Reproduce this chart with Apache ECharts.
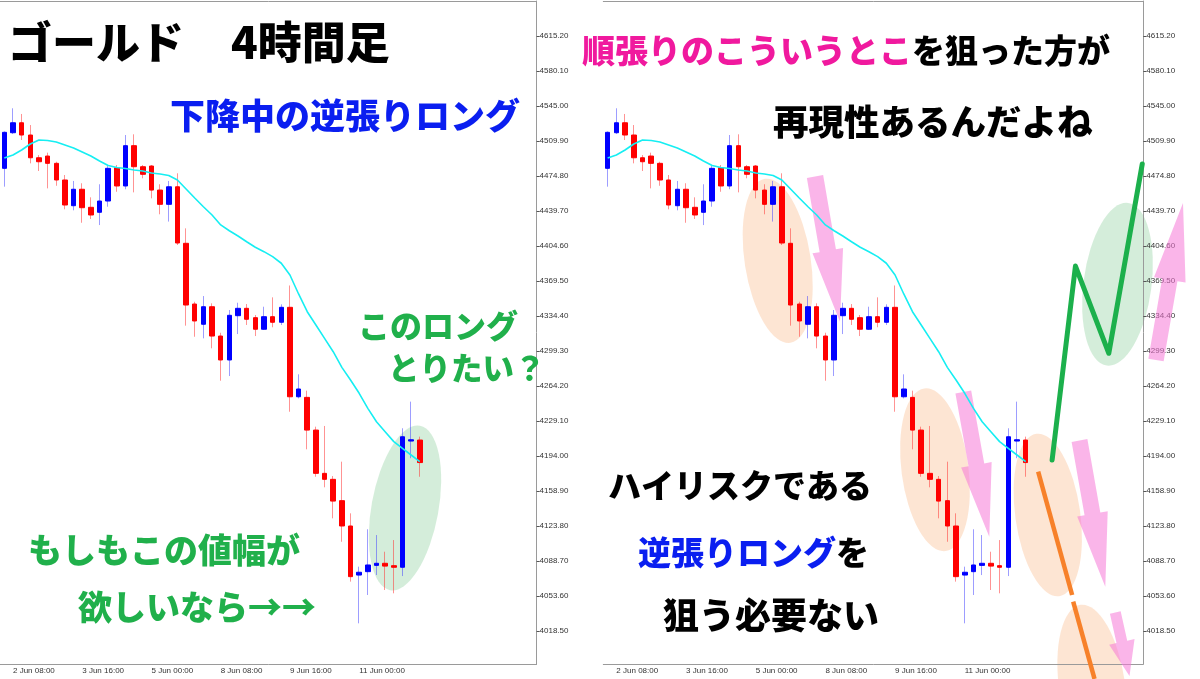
<!DOCTYPE html>
<html><head><meta charset="utf-8">
<script src="https://cdn.jsdelivr.net/npm/echarts@6/dist/echarts.min.js"></script>
<style>html,body{margin:0;padding:0;background:#fff}#c{width:1200px;height:679px}</style>
</head><body><div id="c"></div>
<script>
// ---- data ----
const tickLabels = ['2 Jun 08:00','3 Jun 16:00','5 Jun 00:00','8 Jun 08:00','9 Jun 16:00','11 Jun 00:00'];
const tickIndex = [1,9,17,25,33,41];
const slotCount = 62;
const open  = [4482.5,4518.2,4528.2,4515.9,4493.1,4494.8,4487.5,4470.8,4445.0,4461.5,4443.4,4438.4,4449.7,4483.1,4464.8,4505.2,4484.1,4484.8,4460.7,4446.4,4464.0,4407.3,4346.4,4326.1,4343.7,4314.3,4290.3,4334.7,4342.1,4332.7,4321.1,4333.7,4328.1,4343.1,4253.4,4252.8,4220.0,4176.6,4170.6,4149.2,4123.8,4074.6,4078.0,4084.3,4086.4,4084.0,4082.4,4209.0,4210.0];
const close = [4518.6,4528.2,4515.9,4493.1,4489.1,4487.5,4470.8,4445.7,4461.5,4443.0,4435.7,4449.7,4482.5,4464.8,4505.2,4484.1,4476.5,4460.7,4446.4,4464.0,4407.6,4345.4,4329.4,4343.7,4314.3,4290.3,4335.1,4342.1,4331.1,4321.1,4333.7,4328.1,4343.1,4253.4,4261.2,4220.0,4176.6,4170.6,4148.8,4123.8,4073.0,4077.4,4084.7,4086.4,4083.6,4082.4,4213.3,4210.3,4187.4];
const low   = [4464.1,4516.9,4510.9,4487.5,4479.8,4462.4,4465.0,4441.4,4440.4,4427.9,4431.7,4425.6,4444.0,4459.0,4461.5,4458.4,4472.5,4452.4,4436.4,4429.1,4405.6,4324.7,4313.6,4312.0,4302.0,4269.5,4274.2,4316.3,4325.4,4314.3,4320.4,4323.1,4325.4,4238.4,4251.8,4200.7,4173.2,4162.6,4131.5,4108.0,4068.0,4026.2,4054.6,4074.6,4059.6,4056.3,4073.6,4191.8,4173.2];
const high  = [4519.5,4542.7,4537.0,4525.9,4495.8,4498.2,4489.1,4475.8,4469.8,4467.5,4453.4,4466.5,4485.8,4485.8,4515.9,4516.6,4485.8,4485.8,4466.5,4469.8,4477.5,4422.3,4348.7,4354.4,4347.1,4317.6,4340.4,4347.7,4346.4,4335.4,4343.7,4353.1,4346.1,4365.0,4275.9,4259.5,4223.4,4224.1,4173.9,4188.3,4136.5,4083.0,4120.5,4114.7,4098.0,4109.7,4221.8,4248.5,4213.4];
const ma    = [4492.8,4495.9,4500.9,4506.9,4510.9,4510.4,4508.9,4505.9,4502.9,4498.9,4494.9,4489.8,4485.3,4483.3,4482.3,4480.8,4479.8,4477.8,4476.8,4475.3,4470.8,4461.8,4452.7,4444.0,4435.7,4425.7,4419.9,4414.6,4408.9,4403.3,4398.9,4393.9,4387.3,4375.5,4356.5,4338.7,4325.4,4312.0,4298.6,4282.9,4270.2,4256.9,4241.8,4228.4,4218.4,4208.4,4201.7,4195.0,4188.3];
const priceTicks = [4018.5,4053.6,4088.7,4123.8,4158.9,4194.0,4229.1,4264.2,4299.3,4334.4,4369.5,4404.6,4439.7,4474.8,4509.9,4545.0,4580.1,4615.2];
// projected paths on the right chart: [bar index, price]
const greenPath   = [[51.03,4190.0],[53.71,4384.5],[57.54,4297.0],[61.38,4486.8]];
const orangePath1 = [[49.43,4178.3],[53.33,4054.6]];
const orangePath2 = [[53.45,4047.9],[55.90,3970.4]];

// ---- build ----
const categories = Array.from({length: slotCount}, (_, i) => {
  const k = tickIndex.indexOf(i); return k >= 0 ? tickLabels[k] : '';
});
const wickData = open.map((o, i) => [o, close[i], low[i], high[i]]);
const bodyData = open.map((o, i) => [o, close[i], Math.min(o, close[i]), Math.max(o, close[i])]);
const isTick = (i) => tickIndex.includes(i);
const AX = '#9a9a9a';

const grids = [
  {left: -3.4, top: 1, width: 540, height: 663},
  {left: 603.3, top: 1, width: 540, height: 663}
];
const xAxes = [], yAxes = [];
[0,1].forEach(g => {
  xAxes.push({type:'category', gridIndex:g, data:categories, boundaryGap:true,
    axisLine:{onZero:false, lineStyle:{color:AX}},
    axisTick:{alignWithLabel:true, interval:isTick, length:3, lineStyle:{color:'#666'}},
    axisLabel:{interval:isTick, align:'left', margin:3, fontSize:8, color:'#333', fontFamily:'Liberation Sans'},
    splitLine:{show:false}});
});
[0,1].forEach(g => {
  xAxes.push({type:'value', gridIndex:g, position:'top', min:-0.5, max:slotCount-0.5,
    axisLine:{show:true, onZero:false, lineStyle:{color:AX}},
    axisTick:{show:false}, axisLabel:{show:false}, splitLine:{show:false}});
  yAxes.push({type:'value', gridIndex:g, position:'right', min:3985.4, max:4650.3, scale:true,
    axisLine:{show:true, onZero:false, lineStyle:{color:AX}},
    axisTick:{show:true, length:3, customValues:priceTicks, lineStyle:{color:'#555'}},
    axisLabel:{customValues:priceTicks, formatter:(v)=>Number(v).toFixed(2), fontSize:8, margin:3, color:'#333', fontFamily:'Liberation Sans'},
    splitLine:{show:false}});
});

const series = [];
[0,1].forEach(g => {
  series.push({type:'candlestick', xAxisIndex:g, yAxisIndex:g, data:wickData, barWidth:1, silent:true,
    itemStyle:{color:'rgba(60,60,255,0.5)', color0:'rgba(255,40,40,0.5)', borderColor:'rgba(60,60,255,0.5)', borderColor0:'rgba(255,40,40,0.5)', borderWidth:1}});
  series.push({type:'candlestick', xAxisIndex:g, yAxisIndex:g, data:bodyData, barWidth:5, silent:true,
    itemStyle:{color:'#0000ff', color0:'#ff0000', borderColor:'#0000ff', borderColor0:'#ff0000', borderWidth:1}});
  series.push({type:'line', xAxisIndex:g, yAxisIndex:g, data:ma, symbol:'none', silent:true, z:3,
    lineStyle:{color:'#16eef2', width:1.6}});
});
series.push({type:'line', xAxisIndex:3, yAxisIndex:1, data:greenPath, symbol:'none', clip:false, z:6,
  lineStyle:{color:'#1cb04c', width:5, cap:'round', join:'round'}});
[orangePath1, orangePath2].forEach(p => series.push({type:'line', xAxisIndex:3, yAxisIndex:1, data:p, symbol:'none', clip:false, z:6,
  lineStyle:{color:'#f7812a', width:4.5, cap:'butt'}}));

// ---- annotations ----
const PEACH = 'rgba(250,170,110,0.3)', MINT = 'rgba(120,200,140,0.32)', PINK = 'rgba(245,120,215,0.55)';
function ellipse(cx, cy, rx, ry, rot, fill) {
  return {type:'circle', x:cx, y:cy, rotation:rot, scaleX:rx/ry, scaleY:1, shape:{cx:0, cy:0, r:ry}, style:{fill:fill}, z:0, silent:true};
}
function arrow(x0, y0, x1, y1, sw, hw, hl) {
  const L = Math.hypot(x1-x0, y1-y0), dx = (x1-x0)/L, dy = (y1-y0)/L, px = -dy, py = dx;
  const bx = x1 - dx*hl, by = y1 - dy*hl;
  const pts = [[x0+px*sw/2, y0+py*sw/2],[bx+px*sw/2, by+py*sw/2],[bx+px*hw/2, by+py*hw/2],[x1,y1],
               [bx-px*hw/2, by-py*hw/2],[bx-px*sw/2, by-py*sw/2],[x0-px*sw/2, y0-py*sw/2]];
  return {type:'polygon', shape:{points:pts}, style:{fill:PINK}, z:1, silent:true};
}
const JP = '"Noto Sans CJK JP","Noto Sans CJK SC",sans-serif';
function txt(x, y, s, size, color) {
  return {type:'text', x:x, y:y, z:100, silent:true,
    style:{text:s, fill:color, font:'900 ' + size + 'px ' + JP, textAlign:'left', textVerticalAlign:'middle', align:'left', verticalAlign:'middle'}};
}
const BLUE = '#0a1ef0', GREEN = '#20b04b', MAG = '#f0199e', BLK = '#000';
const graphic = [
  ellipse(405, 508, 33.5, 83.5, -0.18, MINT),
  ellipse(777.7, 260.8, 33, 83, 0.155, PEACH),
  ellipse(935, 469.7, 33.5, 82, 0.13, PEACH),
  ellipse(1047.8, 515, 32.5, 82, 0.14, PEACH),
  ellipse(1092, 686, 33, 82, 0.14, PEACH),
  ellipse(1117.5, 284.3, 34, 82, -0.13, MINT),
  arrow(815, 176.5, 840, 321.7, 16.5, 31, 72),
  arrow(963.3, 392, 989.3, 536.7, 16, 31, 73),
  arrow(1079.5, 440.5, 1105.3, 586.7, 16, 31, 74),
  arrow(1115.3, 612.5, 1129.5, 676, 11, 26, 35),
  arrow(1156, 360, 1183, 203, 15.5, 32, 78),
  txt(8, 42, 'ゴールド', 44, BLK),
  txt(231, 42, '4時間足', 44, BLK),
  txt(170, 116, '下降中の逆張りロング', 35, BLUE),
  txt(358, 326, 'このロング', 32, GREEN),
  txt(388, 368, 'とりたい？', 31.5, GREEN),
  txt(28, 550, 'もしもこの値幅が', 34, GREEN),
  txt(78, 607, '欲しいなら→→', 34, GREEN),
  txt(582, 50, '順張りのこういうとこ', 33, MAG),
  txt(912, 50, 'を狙った方が', 33, BLK),
  txt(773, 122, '再現性あるんだよね', 35.5, BLK),
  txt(608, 485, 'ハイリスクである', 33, BLK),
  txt(638, 552, '逆張りロング', 33, BLUE),
  txt(836, 552, 'を', 33, BLK),
  txt(663, 615, '狙う必要ない', 36, BLK)
];

const chart = echarts.init(document.getElementById('c'));
chart.setOption({
  backgroundColor:'#fff', animation:false,
  grid:grids, xAxis:xAxes, yAxis:yAxes, series:series, graphic:graphic
});
</script></body></html>
